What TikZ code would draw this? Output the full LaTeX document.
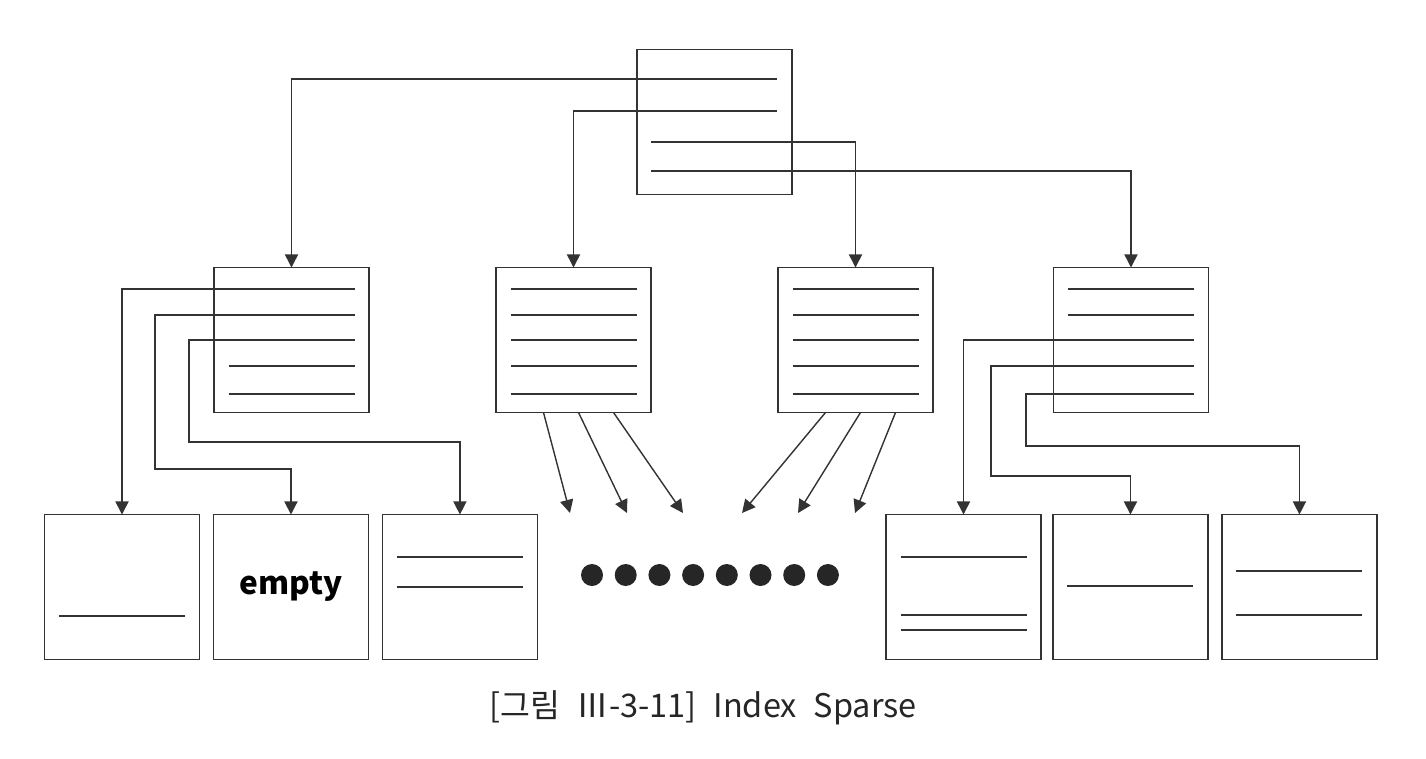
\documentclass[tikz,border=0pt]{standalone}
\usepackage{fontspec}
\newfontfamily\kor[WordSpace=2.3]{Noto Sans CJK KR}
\usetikzlibrary{positioning,arrows.meta}

\begin{document}
\begin{tikzpicture}[x=0.02cm,y=-0.02cm,%
		   page/.style={draw=black!80,line width=0.8pt,minimum width=3.1cm,minimum height=2.9cm,inner sep=0pt,outer sep=0pt},
		   entry/.style={black!80,line width=0.8pt},
		   pointer/.style={entry,-{Triangle[length=7.5pt,width=7.5pt]}},
		   dot/.style={circle,fill=black!85,minimum size=0.44cm,inner sep=0pt}]

	\useasboundingbox (0,0) rectangle (1426,758);

	\node[page] (root) at (714.5,122) {};
	\foreach \x/\n in {291.5/l,573.5/m,855.5/n,1131/r}
		\node[page] (mid-\n) at (\x,340) {};
	\node[page] (leaf-1) at (122,587) {};
	\node[page,right=0.28cm of leaf-1] (leaf-2) {\kor\fontsize{18}{22}\selectfont\bfseries empty};
	\node[page,right=0.28cm of leaf-2] (leaf-3) {};
	\node[page] (leaf-4) at (963.5,587) {};
	\node[page,right=0.24cm of leaf-4] (leaf-5) {};
	\node[page,right=0.28cm of leaf-5] (leaf-6) {};

	% rows inside the pages
	\foreach \n/\rows in {l/{26,54},m/{-51,-25,0,26,54},n/{-51,-25,0,26,54},r/{-51,-25}}
		\foreach \dy in \rows
			\draw[entry] ([shift={(-63,\dy)}]mid-\n.center) -- ([shift={(63,\dy)}]mid-\n.center);
	\foreach \k/\dy in {1/616,3/557,3/587,4/557,4/615,4/630,5/586,6/571,6/615}
		\draw[entry] ([xshift=-1.26cm]leaf-\k.center |- 0,\dy) -- ([xshift=1.26cm]leaf-\k.center |- 0,\dy);

	% root to second level
	\coordinate (root-1) at ([shift={(62.5,-43)}]root.center);
	\coordinate (root-2) at ([shift={(62.5,-11)}]root.center);
	\coordinate (root-3) at ([shift={(-63.5,20)}]root.center);
	\coordinate (root-4) at ([shift={(-63.5,49)}]root.center);
	\draw[pointer] (root-1) -| (mid-l.north);
	\draw[pointer] (root-2) -| (mid-m.north);
	\draw[pointer] (root-3) -| (mid-n.north);
	\draw[pointer] (root-4) -| (mid-r.north);

	% second level to leaves
	\foreach \dy [count=\i] in {-51,-25,0}
		\coordinate (l-\i) at ([shift={(63,\dy)}]mid-l.center);
	\foreach \dy [count=\i from 3] in {0,26,54}
		\coordinate (r-\i) at ([shift={(63,\dy)}]mid-r.center);
	\draw[pointer] (l-1) -| (leaf-1.north);
	\draw[pointer] (l-2) -| (155,469) -| (leaf-2.north);
	\draw[pointer] (l-3) -| (189,442) -| (leaf-3.north);
	\draw[pointer] (r-3) -| (leaf-4.north);
	\draw[pointer] (r-4) -| (991,476) -| (leaf-5.north);
	\draw[pointer] (r-5) -| (1026,446) -| (leaf-6.north);

	% the pages in between
	\foreach \dx/\x [count=\i] in {-30/570,5/627,40/683} {
		\coordinate (gap-m\i) at (\x,513);
		\draw[pointer] ([shift={(\dx,0)}]mid-m.south) -- (gap-m\i);
	}
	\foreach \dx/\x [count=\i] in {-30/742,5/798,40/855} {
		\coordinate (gap-n\i) at (\x,513);
		\draw[pointer] ([shift={(\dx,0)}]mid-n.south) -- (gap-n\i);
	}
	\foreach \i in {0,...,7}
		\node[dot] (dot-\i) at (592+33.7*\i,575) {};

	\node[font=\kor\fontsize{18.5}{22}\selectfont,text=black!85] (caption) at (703,708) {[그림 Ⅲ-3-11] Index Sparse};
\end{tikzpicture}
\end{document}
